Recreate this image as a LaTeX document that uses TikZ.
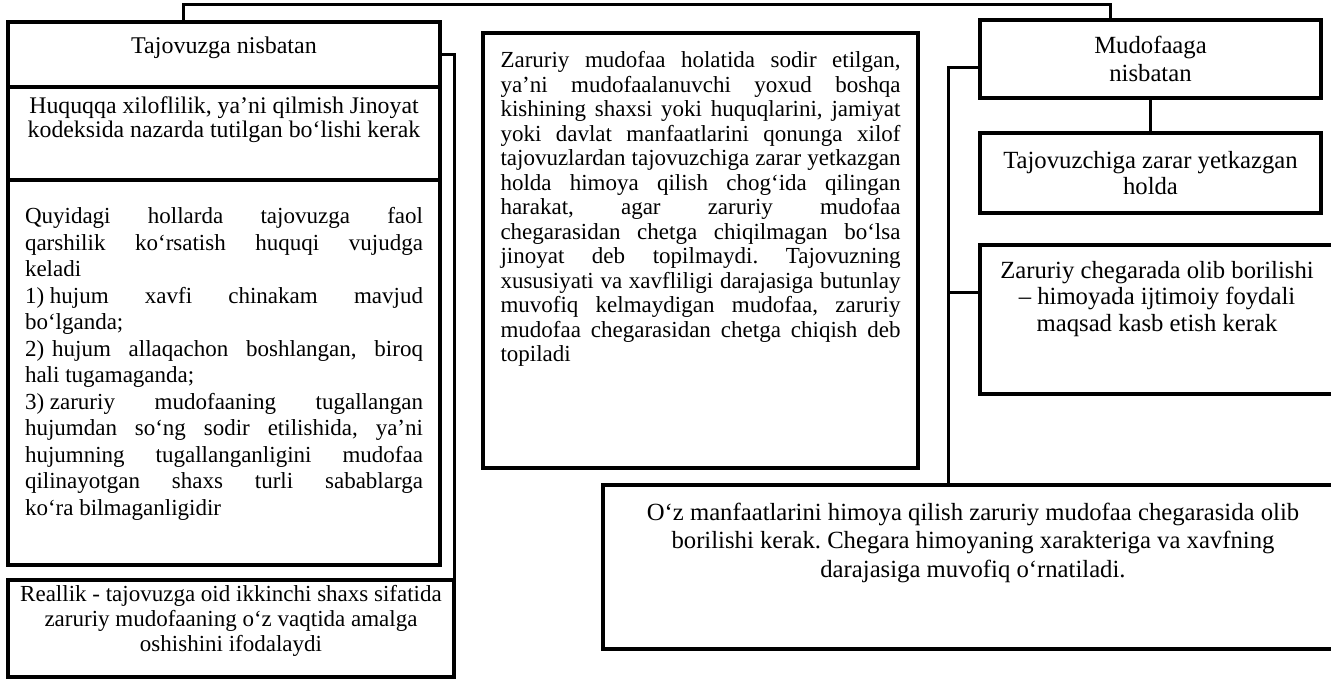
\documentclass[tikz,border=0pt]{standalone}
\usepackage{fontspec}
\setmainfont{Liberation Serif}
\newcommand\jl[1]{\makebox[\linewidth][s]{#1}\\}
\tikzset{
  box/.style={draw, line width=3.5pt, inner ysep=0pt, inner xsep=0pt, outer sep=0pt, anchor=north west},
  conn/.style={line width=3pt},
}
\begin{document}
\frenchspacing
\begin{tikzpicture}[x=1pt,y=-1pt]
\useasboundingbox (0,0) rectangle (1331,679);
\fill[white] (0,0) rectangle (1331,679);
\clip (0,0) rectangle (1331,679);

% left column
\node[box, font=\fontsize{24}{25}\selectfont] (tn) at (8,22)
  {\parbox[c][65pt][t]{432pt}{\vspace*{14pt}\centering\strut Tajovuzga nisbatan}};
\node[box, font=\fontsize{23.8}{23.5}\selectfont] (hq) at (8,87)
  {\parbox[c][93pt][t]{432pt}{\vspace*{9.5pt}\centering\strut Huquqqa xiloflilik, ya’ni qilmish Jinoyat\\ kodeksida nazarda tutilgan bo‘lishi kerak}};
\node[box, inner xsep=17pt, font=\fontsize{23}{26.5}\selectfont] (qy) at (8,180)
  {\parbox[c][385pt][t]{398pt}{\vspace*{25.4pt}\strut
   \jl{Quyidagi hollarda tajovuzga faol}%
   \jl{qarshilik ko‘rsatish huquqi vujudga}%
   keladi\\
   \jl{\mbox{1) hujum} xavfi chinakam mavjud}%
   bo‘lganda;\\
   \jl{2)\hspace{8pt}hujum allaqachon boshlangan, biroq}%
   hali tugamaganda;\\
   \jl{\mbox{3) zaruriy} mudofaaning tugallangan}%
   \jl{hujumdan so‘ng sodir etilishida, ya’ni}%
   \jl{hujumning tugallanganligini mudofaa}%
   \jl{qilinayotgan shaxs turli sabablarga}%
   ko‘ra bilmaganligidir}};
\node[box, font=\fontsize{23}{25}\selectfont] (rl) at (8,580)
  {\parbox[c][97pt][t]{446pt}{\vspace*{3.5pt}\centering\strut Reallik - tajovuzga oid ikkinchi shaxs sifatida\\ zaruriy mudofaaning o‘z vaqtida amalga\\ oshishini ifodalaydi}};

% middle
\node[box, inner xsep=17.5pt, font=\fontsize{23}{24.5}\selectfont] (md) at (483,33)
  {\parbox[c][435pt][t]{400pt}{\vspace*{17.8pt}\strut
   \jl{Zaruriy mudofaa holatida sodir etilgan,}%
   \jl{ya’ni mudofaalanuvchi yoxud boshqa}%
   \jl{kishining shaxsi yoki huquqlarini, jamiyat}%
   \jl{yoki davlat manfaatlarini qonunga xilof}%
   \jl{tajovuzlardan tajovuzchiga zarar yetkazgan}%
   \jl{holda himoya qilish chog‘ida qilingan}%
   \jl{harakat, agar zaruriy mudofaa}%
   \jl{chegarasidan chetga chiqilmagan bo‘lsa}%
   \jl{jinoyat deb topilmaydi. Tajovuzning}%
   \jl{xususiyati va xavfliligi darajasiga butunlay}%
   \jl{muvofiq kelmaydigan mudofaa, zaruriy}%
   \jl{mudofaa chegarasidan chetga chiqish deb}%
   topiladi}};

% right column
\node[box, font=\fontsize{24.7}{28}\selectfont] (mn) at (980,20)
  {\parbox[c][78pt][c]{341pt}{\centering Mudofaaga\\ nisbatan}};
\node[box, font=\fontsize{24.7}{25.5}\selectfont] (tz) at (980,133)
  {\parbox[c][80pt][c]{341pt}{\centering Tajovuzchiga zarar yetkazgan\\ holda}};
\node[box, font=\fontsize{24.7}{26.5}\selectfont] (zc) at (980,245)
  {\parbox[c][149pt][t]{365pt}{\vspace*{14.6pt}\centering\rightskip=11pt plus 1fil\strut Zaruriy chegarada olib borilishi\\ – himoyada ijtimoiy foydali\\ maqsad kasb etish kerak}};
\node[box, font=\fontsize{24.7}{28.5}\selectfont] (bt) at (603,485)
  {\parbox[c][164pt][t]{740pt}{\vspace*{15.5pt}\centering\strut O‘z manfaatlarini himoya qilish zaruriy mudofaa chegarasida olib\\ borilishi kerak. Chegara himoyaning xarakteriga va xavfning\\ darajasiga muvofiq o‘rnatiladi.}};

% connectors
\draw[conn] ([xshift=175pt]tn.north west) -- ++(0,-17) -| ([xshift=130pt]mn.north west);
\draw[conn] (tn.east) -- ++(14,0) coordinate (lb) -- (lb |- rl.north);
\draw[conn] (mn.south) -- (tz.north);
\draw[conn] ([yshift=-9pt]mn.west) -- ++(-32,0) coordinate (rb) -- (rb |- bt.north);
\coordinate (zt) at ([yshift=27pt]zc.west);
\draw[conn] (zt) -- (zt -| rb);
\end{tikzpicture}
\end{document}
